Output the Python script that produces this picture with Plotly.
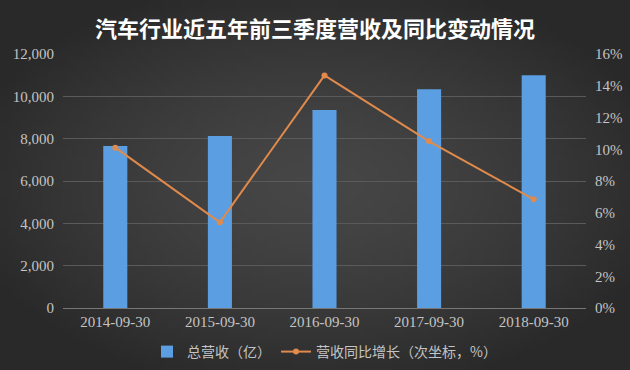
import base64, struct, zlib, math
import plotly.graph_objects as go

# ---- data ----
categories = ["2014-09-30", "2015-09-30", "2016-09-30", "2017-09-30", "2018-09-30"]
revenue = [7650, 8130, 9350, 10340, 11000]          # 总营收（亿）
yoy_growth = [10.1, 5.4, 14.65, 10.5, 6.85]         # 营收同比增长（%）

title_text = "汽车行业近五年前三季度营收及同比变动情况"
bar_name = "总营收（亿）"
line_name = "营收同比增长（次坐标，%）"

# ---- vignette background as a small PNG ----
def make_png(w, h):
    rows = []
    cx, cy = (w - 1) / 2, (h - 1) / 2
    for j in range(h):
        row = bytearray([0])
        for i in range(w):
            dx = (i - cx) / cx
            dy = (j - cy) / cy
            d = min(1.0, math.sqrt(dx * dx * 0.75 + dy * dy * 0.75))
            v = int(round(0x46 - (0x46 - 0x29) * d ** 1.5))
            row += bytes([v, v, v])
        rows.append(bytes(row))
    raw = b"".join(rows)
    def chunk(t, data):
        c = struct.pack(">I", len(data)) + t + data
        return c + struct.pack(">I", zlib.crc32(t + data) & 0xffffffff)
    png = b"\x89PNG\r\n\x1a\n"
    png += chunk(b"IHDR", struct.pack(">IIBBBBB", w, h, 8, 2, 0, 0, 0))
    png += chunk(b"IDAT", zlib.compress(raw, 9))
    png += chunk(b"IEND", b"")
    return "data:image/png;base64," + base64.b64encode(png).decode()

W, H = 630, 370
ML, MR, MT, MB = 63, 44, 54, 62
PW, PH = W - ML - MR, H - MT - MB

bg = make_png(126, 74)

fig = go.Figure()
fig.add_trace(go.Bar(
    x=categories, y=revenue, name=bar_name,
    marker=dict(color="#5b9fe2", line=dict(width=0)),
    width=0.23, yaxis="y",
))
fig.add_trace(go.Scatter(
    x=categories, y=yoy_growth, name=line_name, yaxis="y2",
    mode="lines+markers",
    line=dict(color="#e08a4c", width=2),
    marker=dict(color="#e08a4c", size=6),
))

serif = "Liberation Serif, DejaVu Serif, Noto Sans CJK SC, serif"
tickfont = dict(family=serif, size=15, color="#c4c4c4")

fig.update_layout(
    width=W, height=H,
    margin=dict(l=ML, r=MR, t=MT, b=MB, autoexpand=False),
    paper_bgcolor="#333333",
    plot_bgcolor="rgba(0,0,0,0)",
    images=[dict(
        source=bg, xref="paper", yref="paper",
        x=-ML / PW, y=1 + MT / PH, sizex=W / PW, sizey=H / PH,
        xanchor="left", yanchor="top", sizing="stretch", layer="below",
    )],
    title=dict(
        text=title_text, x=0.5, xref="container", xanchor="center",
        y=1 - 29 / H, yref="container", yanchor="middle",
        font=dict(family="Noto Sans CJK SC", size=22, color="#ffffff", weight="bold"),
    ),
    xaxis=dict(
        showgrid=False, tickfont=tickfont, showline=True,
        linecolor="#777777", linewidth=1, ticks="", type="category",
    ),
    yaxis=dict(
        range=[0, 12000], dtick=2000, tickformat=",",
        showgrid=True, gridcolor="#5a5a5a", gridwidth=1,
        zeroline=False, tickfont=tickfont, ticks="", ticklen=0,
        ticklabelstandoff=8,
    ),
    yaxis2=dict(
        range=[0, 16], dtick=2, ticksuffix="%", overlaying="y", side="right",
        showgrid=False, zeroline=False, tickfont=tickfont, ticks="",
        ticklabelstandoff=8,
    ),
    legend=dict(
        orientation="h", x=0.5, xanchor="center",
        yref="container", y=18 / H, yanchor="middle",
        font=dict(family="Noto Sans CJK SC", size=14, color="#c4c4c4"),
        bgcolor="rgba(0,0,0,0)", itemwidth=30,
    ),
    showlegend=True,
    bargap=0.77,
)

fig.write_html(
    "out.html",
    config={"displayModeBar": False},
    post_script="document.body.style.margin='0';document.body.style.overflow='hidden';",
)
